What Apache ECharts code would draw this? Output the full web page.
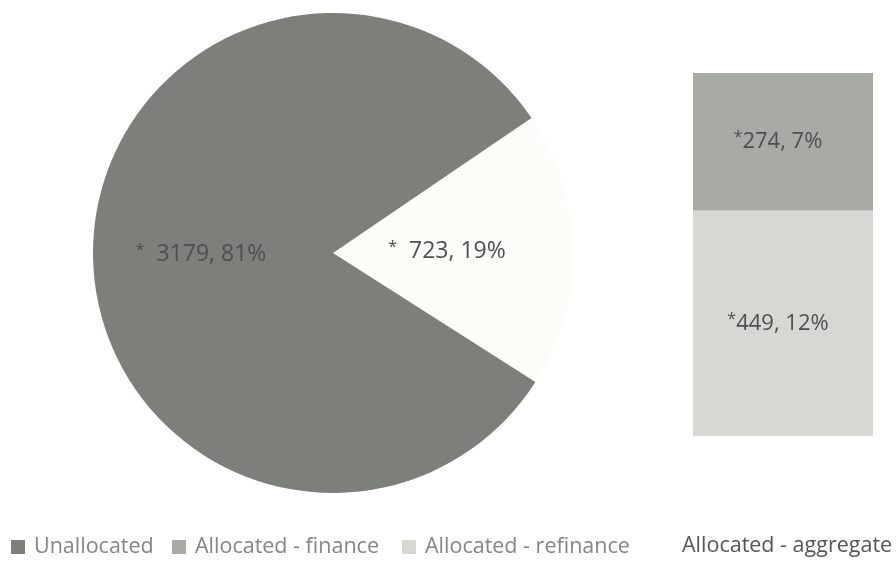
<!DOCTYPE html>
<html>
<head>
<meta charset="utf-8">
<script src="https://cdn.jsdelivr.net/npm/echarts@6/dist/echarts.min.js"></script>
<style>html,body{margin:0;padding:0;background:#fff;}#c{width:896px;height:563px;}</style>
</head>
<body>
<div id="c"></div>
<script>
const pieNames = ['Allocated - aggregate', 'Unallocated'];
const pieValues = [723, 3179];
const barCategories = ['Allocated'];
const financeValues = [274];
const refinanceValues = [449];
const legendNames = ['Unallocated', 'Allocated - finance', 'Allocated - refinance'];

const total = pieValues.reduce((a, b) => a + b, 0);
const pct = v => Math.round(v / total * 100) + '%';
const FONT = 'Open Sans';
const pieLabelStyle = { color: '#4d504d', fontSize: 23, fontFamily: FONT };
const barLabelStyle = { color: '#4d504d', fontSize: 22, fontFamily: FONT };
const legendText = { color: '#858585', fontSize: 21.5, fontFamily: FONT, padding: [0, 0, 0, 4] };
const legendPos = [11, 172, 402];
const star = { a: { fontSize: 16, color: '#4d504d', fontFamily: FONT, padding: [0, 0, 8, 0] } };

const chart = echarts.init(document.getElementById('c'));
chart.setOption({
  animation: false,
  backgroundColor: '#fff',
  legend: legendNames.map((n, i) => ({
    data: [n],
    left: legendPos[i], top: 536, padding: 0,
    itemWidth: 14, itemHeight: 14, itemGap: 10,
    icon: 'rect',
    textStyle: legendText,
    selectedMode: false
  })).concat([{
    data: [pieNames[0]],
    left: 677, top: 535, padding: 0,
    icon: 'none', itemWidth: 0,
    textStyle: { color: '#555', fontSize: 21.5, fontFamily: FONT },
    selectedMode: false
  }]),
  grid: { left: 693, top: 73, width: 180, height: 363 },
  xAxis: { type: 'category', data: barCategories, show: false },
  yAxis: { type: 'value', min: 0, max: total - pieValues[1], show: false },
  series: [{
    type: 'pie',
    center: [333, 253], radius: 240,
    startAngle: 34.2, clockwise: true,
    silent: true,
    data: pieNames.map((n, i) => ({ name: n, value: pieValues[i] })),
    color: ['#fcfcf9', '#7c7f7a'],
    label: {
      position: 'inside',
      formatter: p => '{a|*}  ' + p.value + ', ' + pct(p.value),
      rich: star,
      padding: [0, 18, 0, 0],
      ...pieLabelStyle
    },
    labelLine: { show: false }
  }, {
    type: 'bar', name: 'Allocated - refinance', stack: 'a',
    data: refinanceValues, barWidth: '100%',
    itemStyle: { color: '#d6d8d3' },
    label: { show: true, position: 'inside', formatter: p => '{a|*}' + p.value + ', ' + pct(p.value),
      rich: star, padding: [0, 10, 0, 0], ...barLabelStyle }
  }, {
    type: 'bar', name: 'Allocated - finance', stack: 'a',
    data: financeValues, barWidth: '100%',
    itemStyle: { color: '#a8aaa5' },
    label: { show: true, position: 'inside', formatter: p => '{a|*}' + p.value + ', ' + pct(p.value),
      rich: star, padding: [0, 10, 0, 0], ...barLabelStyle }
  }, {
    type: 'pie', name: 'legendDummy', radius: 0, center: [-100, -100], silent: true,
    data: [{ name: 'Unallocated', value: 0 }], color: ['#7c7f7a'], label: { show: false }
  }]
});
</script>
</body>
</html>
